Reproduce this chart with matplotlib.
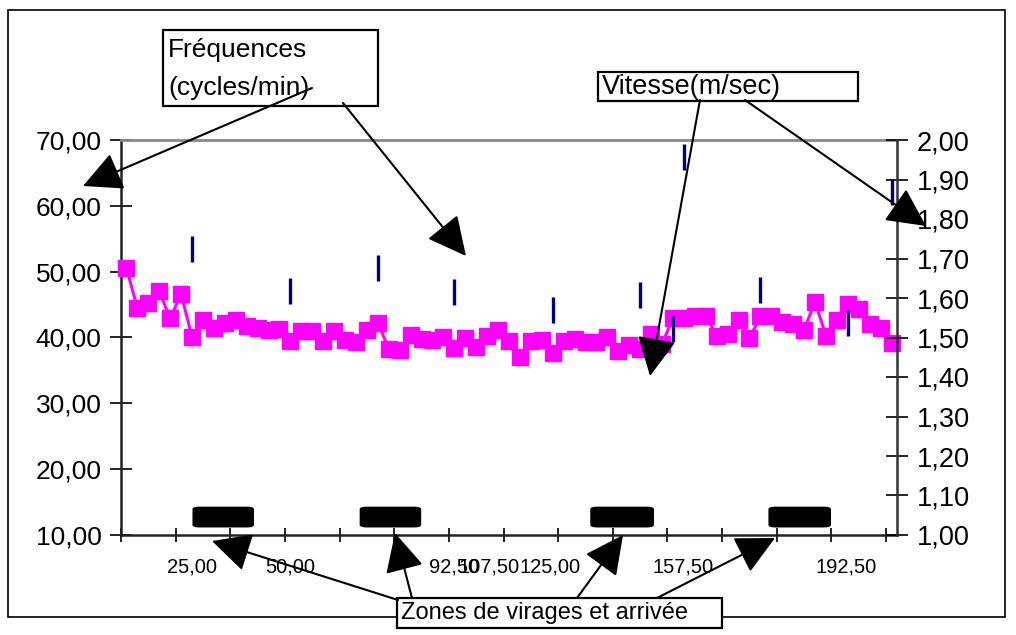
import matplotlib
matplotlib.use("Agg")
import matplotlib.pyplot as plt
from matplotlib.patches import FancyBboxPatch, Rectangle, FancyArrowPatch
import numpy as np

# ---------------- data ----------------
freq = [50.5, 44.5, 45.2, 47.0, 42.9, 46.6, 40.1, 42.7, 41.5, 42.2,
        42.7, 41.8, 41.5, 41.1, 41.3, 39.5, 41.0, 41.0, 39.5, 41.0,
        39.6, 39.3, 41.1, 42.2, 38.3, 38.1, 40.4, 39.8, 39.6, 40.1,
        38.4, 39.9, 38.6, 40.3, 41.1, 39.5, 37.1, 39.5, 39.6, 37.6,
        39.5, 39.8, 39.3, 39.3, 40.1, 38.0, 38.9, 38.2, 40.6, 39.0,
        42.9, 43.0, 43.2, 43.2, 40.3, 40.6, 42.7, 39.9, 43.2, 43.2,
        42.4, 42.1, 41.2, 45.4, 40.3, 42.7, 45.1, 44.4, 42.1, 41.5,
        39.1]
speed_idx = [6, 15, 23, 30, 39, 47, 50, 51, 58, 66, 70]
speed = [1.724, 1.618, 1.676, 1.615, 1.570, 1.608, 1.522, 1.957, 1.620, 1.537, 1.868]
xlabel_pos = [6, 15, 30, 33.2, 38.8, 50.9, 65.8]
xlabel_txt = ["25,00", "50,00", "92,50", "107,50", "125,00", "157,50", "192,50"]
zone_start = [6.1, 21.4, 42.5, 58.8]
zone_end = [11.6, 26.9, 48.2, 64.4]
left_ticks = [10, 20, 30, 40, 50, 60, 70]
right_ticks = [1.0, 1.1, 1.2, 1.3, 1.4, 1.5, 1.6, 1.7, 1.8, 1.9, 2.0]

plt.rcParams['font.family'] = ['Liberation Sans', 'DejaVu Sans']

W, H = 1016, 635
fig = plt.figure(figsize=(W / 100, H / 100), dpi=100)
fig.patch.set_facecolor('white')

def fp(x, y):
    return (x / W, 1 - y / H)

# axes placement
L, R, T, B = 121, 897, 140, 535
ax = fig.add_axes([L / W, 1 - B / H, (R - L) / W, (B - T) / H])
n = len(freq)
ax.set_xlim(-0.5, n - 0.5)
ax.set_ylim(10, 70)
ax.set_yticks(left_ticks)
ax.set_yticklabels([f"{v:.2f}".replace('.', ',') for v in left_ticks], fontsize=19)
ax.set_xticks(np.arange(-0.5, n, 5))
ax.set_xticklabels([])
ax.set_xticks(xlabel_pos, minor=True)
ax.set_xticklabels(xlabel_txt, minor=True, fontsize=14.5)
ax.tick_params(axis='x', which='minor', length=0, pad=16)
ax.tick_params(axis='x', which='major', direction='inout', length=10, width=1.2)
ax.tick_params(axis='y', direction='inout', length=16, width=1.2, pad=6)
for s in ['left', 'bottom']:
    ax.spines[s].set_linewidth(1.8)
    ax.spines[s].set_color('#222222')
ax.spines['top'].set_color('#888888')
ax.spines['top'].set_linewidth(2)
ax.spines['right'].set_visible(False)

x = np.arange(n)
ax.plot(x, freq, color='#FF00FF', lw=2.2, marker='s', markersize=11.5,
        markerfacecolor='#FF00FF', markeredgecolor='#FF00FF', zorder=3, clip_on=False)

for s0, s1 in zip(zone_start, zone_end):
    ax.add_patch(FancyBboxPatch((s0, 11.25), s1 - s0, 2.95,
                                boxstyle="round,pad=0,rounding_size=0.6",
                                mutation_aspect=0.5,
                                facecolor='black', edgecolor='black', zorder=4))

ax2 = ax.twinx()
ax2.set_ylim(1.0, 2.0)
ax2.set_yticks(right_ticks)
ax2.set_yticklabels([f"{v:.2f}".replace('.', ',') for v in right_ticks], fontsize=19.5)
ax2.tick_params(axis='y', direction='inout', length=16, width=1.2, pad=6)
ax2.spines['right'].set_linewidth(1.8)
ax2.spines['right'].set_color('#333333')
for s in ['left', 'top', 'bottom']:
    ax2.spines[s].set_visible(False)
ax2.plot(speed_idx, speed, linestyle='none', marker='|', markersize=19,
         markeredgewidth=2.4, color='#000080', zorder=5, clip_on=False)

# outer frame
fig.add_artist(Rectangle(fp(8, 617), 997 / W, 607 / H, transform=fig.transFigure,
                         fill=False, edgecolor='black', lw=1.2))

# annotation boxes
def box(x0, y0, x1, y1):
    fig.add_artist(Rectangle(fp(x0, y1), (x1 - x0) / W, (y1 - y0) / H,
                             transform=fig.transFigure, facecolor='white',
                             edgecolor='black', lw=1.6, zorder=10))

box(163, 30, 378, 106)
fig.text(*fp(168, 50), "Fréquences", fontsize=19, va='center', ha='left', zorder=11)
fig.text(*fp(168, 88), "(cycles/min)", fontsize=19, va='center', ha='left', zorder=11)
box(598, 72, 858, 101)
fig.text(*fp(602, 87), "Vitesse(m/sec)", fontsize=19.5, va='center', ha='left', zorder=11)
box(397, 598, 722, 628)
fig.text(*fp(401, 613), "Zones de virages et arrivée", fontsize=17, va='center', ha='left', zorder=11)

arrows = [((312, 88), (83, 186)), ((343, 103), (466, 256)),
          ((700, 100), (650, 376)), ((745, 100), (926, 226)),
          ((398, 600), (212, 541)), ((412, 598), (395, 533)),
          ((577, 598), (623, 535)), ((657, 598), (775, 538))]
for (s, e) in arrows:
    fig.add_artist(FancyArrowPatch(
        fp(*s), fp(*e), transform=fig.transFigure,
        arrowstyle='-|>,head_length=0.9,head_width=0.45', mutation_scale=27,
        color='black', lw=1.5, zorder=12, shrinkA=0, shrinkB=0))

fig.savefig("out.png", dpi=100)
